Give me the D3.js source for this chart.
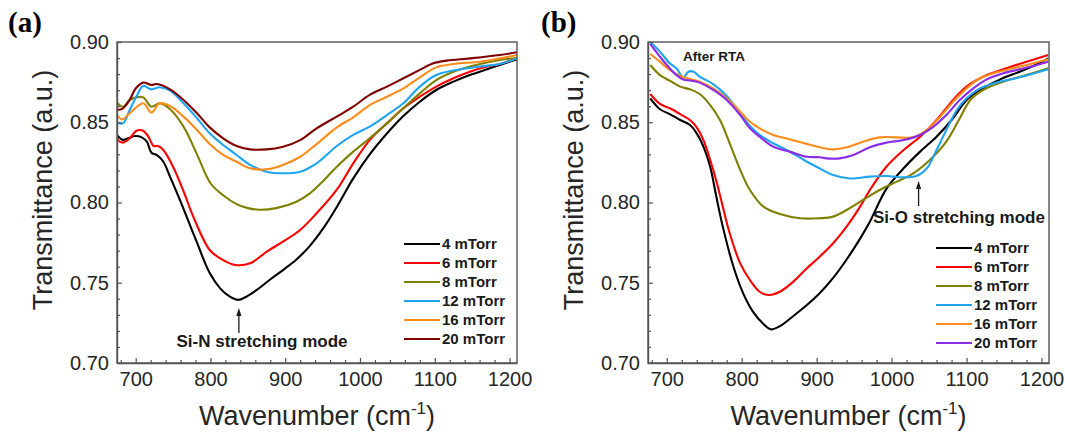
<!DOCTYPE html>
<html><head><meta charset="utf-8">
<script src="https://cdn.jsdelivr.net/npm/d3@7"></script>
<style>body{margin:0;background:#fff}svg{display:block}</style>
</head><body><svg id="c" width="1065" height="436"></svg>
<script>
// ---------- data ----------
const xDomain = [675, 1210];
const yDomain = [0.70, 0.90];
const xTicks = [700, 800, 900, 1000, 1100, 1200];
const xMinorTicks = [680, 720, 740, 760, 780, 820, 840, 860, 880, 920, 940, 960, 980, 1020, 1040, 1060, 1080, 1120, 1140, 1160, 1180];
const yTicks = [0.70, 0.75, 0.80, 0.85, 0.90];
const yMinorTicks = [0.71, 0.72, 0.73, 0.74, 0.76, 0.77, 0.78, 0.79, 0.81, 0.82, 0.83, 0.84, 0.86, 0.87, 0.88, 0.89];
const seriesLabels = ["4 mTorr", "6 mTorr", "8 mTorr", "12 mTorr", "16 mTorr", "20 mTorr"];
const colorsA = ["#000000", "#ff0000", "#808000", "#1ea4f2", "#ff8c1a", "#800000"];
const colorsB = ["#000000", "#ff0000", "#808000", "#1ea4f2", "#ff8c1a", "#8a2be8"];

// Panel (a): as deposited
const a4 = [[675,.842],[683,.839],[690,.840],[699,.8414],[708,.8406],[715,.838],[721,.831],[728,.8296],[737,.8254],[746,.816],[757,.804],[764,.796],[782,.775],[799,.756],[813,.7465],[826,.7413],[837,.7393],[848,.7413],[862,.7455],[879,.7517],[897,.7579],[915,.7645],[933,.7730],[951,.7840],[970,.7980],[991,.8150],[1013,.8300],[1036,.8430],[1058,.8539],[1080,.8628],[1102,.8701],[1125,.8753],[1147,.8794],[1170,.883],[1187,.8857],[1210,.8892]];
const a6 = [[675,.8389],[683,.8373],[692,.840],[701,.8447],[710,.8447],[717,.841],[724,.8352],[730,.8352],[737,.8327],[750,.8223],[764,.807],[777,.7912],[799,.7704],[813,.7652],[833,.7611],[853,.7621],[875,.7693],[897,.7756],[920,.7829],[942,.7933],[969,.808],[991,.8244],[1013,.8389],[1036,.8493],[1058,.8587],[1080,.8659],[1102,.8722],[1125,.8774],[1147,.8815],[1170,.8847],[1187,.8863],[1210,.8898]];
const a8 = [[675,.8622],[683,.8597],[692,.8639],[701,.8655],[710,.8655],[721,.8597],[732,.8618],[746,.8581],[764,.8473],[782,.830],[800,.812],[817,.8045],[835,.799],[850,.7965],[866,.7955],[888,.7965],[915,.8005],[933,.8057],[951,.8135],[969,.8223],[991,.8317],[1013,.840],[1036,.8493],[1058,.8587],[1080,.868],[1102,.8763],[1125,.8815],[1147,.8847],[1187,.8888],[1210,.890]];
const a12 = [[675,.8497],[683,.8493],[692,.8576],[701,.866],[710,.8726],[721,.8705],[732,.8718],[746,.8697],[764,.8618],[782,.8525],[799,.8431],[817,.8358],[835,.8296],[853,.8234],[875,.8192],[897,.8182],[920,.8192],[942,.8244],[969,.8352],[991,.8421],[1013,.8473],[1036,.8545],[1058,.8618],[1080,.8722],[1102,.8794],[1125,.8822],[1160,.8847],[1187,.8863],[1210,.8898]];
const a16 = [[675,.8545],[682,.8518],[692,.8556],[710,.8618],[721,.856],[732,.8618],[746,.8601],[764,.8535],[782,.8452],[799,.8364],[817,.8296],[835,.8254],[853,.8213],[875,.8207],[897,.8234],[920,.8285],[942,.8364],[969,.8468],[991,.8531],[1013,.8607],[1036,.8659],[1058,.8711],[1080,.878],[1102,.8842],[1125,.8863],[1160,.8877],[1187,.8898],[1210,.8919]];
const a20 = [[675,.8576],[683,.8587],[692,.864],[700,.871],[710,.8747],[721,.8732],[728,.8738],[746,.8705],[764,.8639],[782,.8556],[799,.8468],[817,.840],[835,.8352],[853,.8331],[875,.8331],[897,.8348],[920,.8389],[942,.8462],[969,.8535],[991,.8597],[1013,.867],[1036,.8722],[1058,.8774],[1080,.8826],[1098,.8867],[1116,.8884],[1147,.8898],[1187,.8919],[1210,.8936]];

// Panel (b): after RTA
const b4 = [[678,.8649],[691,.8581],[704,.8551],[718,.8514],[731,.8483],[740,.8431],[749,.8348],[758,.8223],[766,.804],[775,.7845],[789,.760],[802,.7434],[815,.732],[829,.7243],[839,.721],[851,.723],[869,.7293],[887,.7361],[904,.7434],[922,.7530],[940,.7645],[958,.7775],[971,.7880],[993,.8085],[1016,.8213],[1038,.8317],[1060,.841],[1082,.8525],[1100,.8639],[1118,.8701],[1145,.8767],[1171,.8815],[1189,.885],[1209,.8898]];
const b6 = [[678,.8676],[691,.8614],[704,.8587],[718,.8551],[731,.8514],[740,.8468],[749,.8389],[758,.8265],[767,.812],[775,.797],[784,.7808],[798,.7621],[811,.7517],[824,.7444],[836,.7424],[851,.7444],[869,.7507],[887,.759],[904,.7662],[922,.7746],[940,.785],[958,.7974],[971,.8078],[993,.8223],[1016,.8327],[1038,.841],[1060,.8514],[1082,.8639],[1100,.8722],[1127,.8794],[1153,.8836],[1180,.8877],[1209,.8919]];
const b8 = [[678,.8857],[691,.8794],[704,.8759],[718,.8722],[731,.8705],[744,.8676],[758,.8607],[771,.8514],[784,.8369],[798,.8203],[811,.8078],[829,.7974],[851,.7928],[878,.7902],[904,.7902],[922,.7912],[940,.7953],[962,.8016],[984,.8078],[1007,.813],[1029,.8182],[1051,.8265],[1073,.8379],[1091,.8525],[1105,.8639],[1122,.8701],[1149,.8753],[1180,.8794],[1209,.8836]];
const b12 = [[678,.900],[691,.894],[704,.8867],[713,.8836],[722,.878],[729,.8815],[736,.8815],[744,.8784],[762,.8738],[780,.8664],[798,.8556],[811,.8477],[824,.8421],[842,.8369],[864,.8317],[887,.8254],[904,.8213],[922,.8171],[944,.815],[971,.8161],[993,.8165],[1016,.8157],[1033,.8165],[1047,.8213],[1060,.8327],[1073,.8452],[1087,.8576],[1100,.8649],[1118,.8711],[1140,.8747],[1171,.878],[1209,.883]];
const b16 = [[678,.8925],[691,.8877],[704,.8826],[718,.8788],[733,.8767],[744,.8753],[762,.8711],[780,.8649],[798,.8566],[811,.8503],[824,.8462],[842,.8421],[864,.8394],[887,.8364],[904,.8344],[922,.8331],[940,.8344],[962,.8379],[984,.8406],[1007,.8406],[1029,.8406],[1047,.8452],[1065,.8535],[1082,.8628],[1100,.8711],[1118,.8774],[1136,.8805],[1162,.8836],[1189,.8867],[1209,.8892]];
const b20 = [[678,.8988],[691,.8908],[704,.8836],[713,.8794],[722,.8767],[733,.8759],[744,.8747],[762,.8701],[780,.8639],[798,.8545],[811,.8462],[824,.841],[842,.8348],[864,.8317],[887,.8285],[904,.8282],[913,.8275],[931,.8275],[949,.8296],[971,.8344],[993,.8373],[1016,.8389],[1038,.8421],[1056,.8473],[1073,.8545],[1091,.8639],[1109,.8711],[1127,.8767],[1149,.8805],[1171,.883],[1194,.8857],[1209,.8877]];

const seriesA = [a4, a6, a8, a12, a16, a20];
const seriesB = [b4, b6, b8, b12, b16, b20];

// ---------- drawing ----------
const svg = d3.select("#c");
const SANS = "Arial, 'Liberation Sans', Helvetica, sans-serif";
const SERIF = "'Times New Roman', 'Liberation Serif', serif";
const TOP = 42, BOTTOM = 363;

function panel(cfg) {
  const x = d3.scaleLinear().domain(xDomain).range([cfg.left, cfg.right]);
  const y = d3.scaleLinear().domain(yDomain).range([BOTTOM, TOP]);
  const g = svg.append("g");
  const clipId = "clip" + cfg.id;
  g.append("clipPath").attr("id", clipId).append("rect")
    .attr("x", cfg.left).attr("y", TOP).attr("width", cfg.right - cfg.left).attr("height", BOTTOM - TOP);

  const line = d3.line().x(d => x(d[0])).y(d => y(d[1])).curve(d3.curveCatmullRom.alpha(0.5));
  const lines = g.append("g").attr("clip-path", `url(#${clipId})`);
  cfg.series.forEach((s, i) => {
    lines.append("path").datum(s).attr("d", line)
      .attr("fill", "none").attr("stroke", cfg.colors[i]).attr("stroke-width", 2.1)
      .attr("stroke-linejoin", "round");
  });

  // axes
  const axCol = "#555";
  g.append("g").attr("transform", `translate(0,${BOTTOM})`)
    .call(d3.axisBottom(x).tickValues(xTicks).tickFormat(d3.format("d")).tickSizeInner(-5).tickSizeOuter(0).tickPadding(9));
  g.append("g").attr("transform", `translate(0,${BOTTOM})`)
    .call(d3.axisBottom(x).tickValues(xMinorTicks).tickFormat("").tickSizeInner(-3).tickSizeOuter(0))
    .call(s => s.select(".domain").remove());
  g.append("g").attr("transform", `translate(${cfg.left},0)`)
    .call(d3.axisLeft(y).tickValues(yTicks).tickFormat(d3.format(".2f")).tickSizeInner(-5).tickSizeOuter(0).tickPadding(8));
  g.append("g").attr("transform", `translate(${cfg.left},0)`)
    .call(d3.axisLeft(y).tickValues(yMinorTicks).tickFormat("").tickSizeInner(-3).tickSizeOuter(0))
    .call(s => s.select(".domain").remove());
  g.selectAll(".tick line").attr("stroke", axCol).attr("stroke-width", 1.2);
  g.selectAll(".domain").attr("stroke", axCol).attr("stroke-width", 1.4);
  g.selectAll(".tick text").attr("font-family", SANS).attr("font-size", 20).attr("fill", "#262626");

  // frame
  g.append("rect").attr("x", cfg.left).attr("y", TOP)
    .attr("width", cfg.right - cfg.left).attr("height", BOTTOM - TOP)
    .attr("fill", "none").attr("stroke", axCol).attr("stroke-width", 1.4);

  // axis titles
  const cx = (cfg.left + cfg.right) / 2;
  const xt = g.append("text").attr("x", cx).attr("y", 425).attr("text-anchor", "middle")
    .attr("font-family", SANS).attr("font-size", 27).attr("fill", "#262626");
  xt.append("tspan").text("Wavenumber (cm");
  xt.append("tspan").attr("dy", -11).attr("font-size", 17).text("-1");
  xt.append("tspan").attr("dy", 11).text(")");

  g.append("text").attr("transform", `translate(${cfg.left - 65},190) rotate(-90)`)
    .attr("text-anchor", "middle").attr("font-family", SANS).attr("font-size", 27)
    .attr("fill", "#262626").text("Transmittance (a.u.)");

  // panel label
  g.append("text").attr("x", cfg.labelX).attr("y", 32).attr("font-family", SERIF)
    .attr("font-weight", "bold").attr("font-size", 29).attr("fill", "#000").text(cfg.label);

  // legend
  const lg = g.append("g");
  seriesLabels.forEach((lab, i) => {
    const yy = cfg.legendY + i * 19;
    lg.append("line").attr("x1", cfg.right - 113).attr("x2", cfg.right - 77)
      .attr("y1", yy).attr("y2", yy).attr("stroke", cfg.colors[i]).attr("stroke-width", 2.1);
    lg.append("text").attr("x", cfg.right - 75).attr("y", yy + 5.3)
      .attr("font-family", SANS).attr("font-weight", "bold").attr("font-size", 15)
      .attr("fill", "#1a1a1a").text(lab);
  });

  // annotation
  const an = cfg.annot;
  g.append("text").attr("x", an.tx).attr("y", an.ty).attr("text-anchor", "middle")
    .attr("font-family", SANS).attr("font-weight", "bold").attr("font-size", 17)
    .attr("fill", "#1a1a1a").text(an.text);
  const ax = x(an.ax);
  g.append("line").attr("x1", ax).attr("x2", ax).attr("y1", an.y0).attr("y2", an.y1 + 6)
    .attr("stroke", "#1a1a1a").attr("stroke-width", 1.3);
  g.append("path").attr("d", `M${ax},${an.y1} L${ax - 2.6},${an.y1 + 8} L${ax + 2.6},${an.y1 + 8} Z`)
    .attr("fill", "#1a1a1a");

  if (cfg.extra) {
    g.append("text").attr("x", cfg.extra.x).attr("y", cfg.extra.y)
      .attr("font-family", SANS).attr("font-weight", "bold").attr("font-size", 13.5)
      .attr("fill", "#1a1a1a").text(cfg.extra.text);
  }
}

panel({ id: "a", left: 117, right: 517, series: seriesA, colors: colorsA, label: "(a)", labelX: 8, legendY: 244,
  annot: { text: "Si-N stretching mode", tx: 262, ty: 347, ax: 838, y0: 333, y1: 308 } });
panel({ id: "b", left: 648, right: 1049, series: seriesB, colors: colorsB, label: "(b)", labelX: 541, legendY: 248,
  annot: { text: "Si-O stretching mode", tx: 959, ty: 223, ax: 1036, y0: 206, y1: 181 },
  extra: { text: "After RTA", x: 683, y: 61 } });
</script></body></html>
